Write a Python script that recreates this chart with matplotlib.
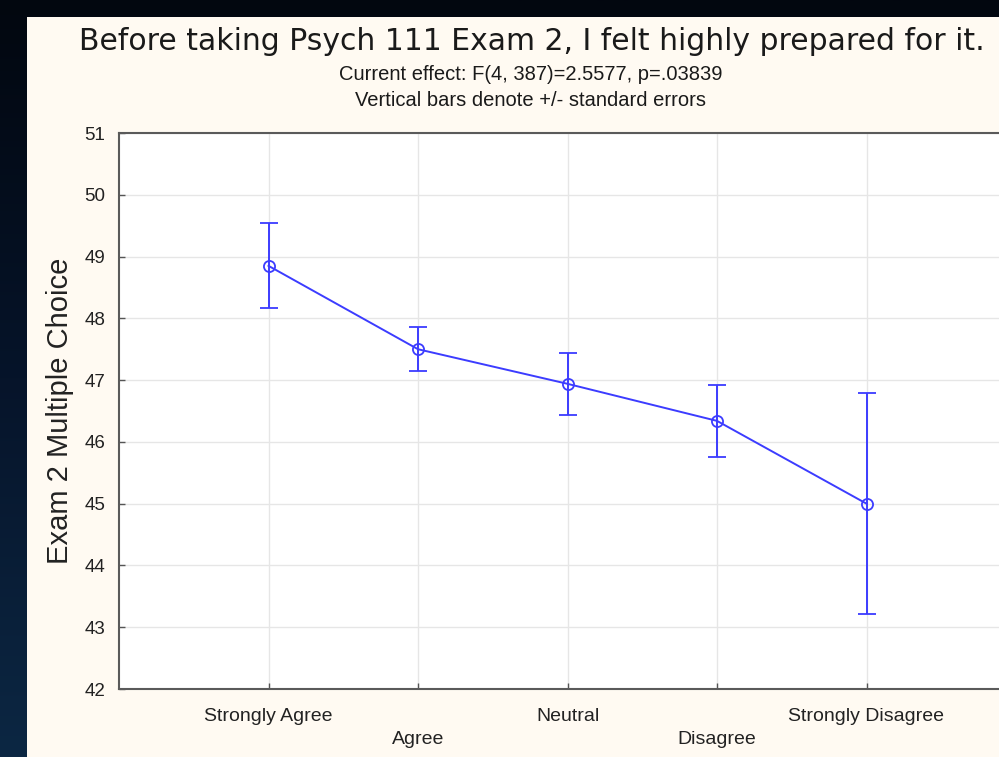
import numpy as np
import matplotlib
matplotlib.use("Agg")
import matplotlib.pyplot as plt
from matplotlib.patches import Rectangle
from matplotlib.colors import LinearSegmentedColormap

categories = ["Strongly Agree", "Agree", "Neutral", "Disagree", "Strongly Disagree"]
means = [48.85, 47.50, 46.94, 46.34, 45.00]
std_errors = [0.69, 0.36, 0.50, 0.58, 1.79]
y_ticks = [42, 43, 44, 45, 46, 47, 48, 49, 50, 51]

W, H = 999, 757
fig = plt.figure(figsize=(W / 100, H / 100), dpi=100)

# slide background gradient
bg = fig.add_axes([0, 0, 1, 1], zorder=-10)
grad = np.linspace(0, 1, 256).reshape(-1, 1)
cmap = LinearSegmentedColormap.from_list("bg", ["#02070f", "#06142a", "#0c2743"])
bg.imshow(grad, aspect="auto", cmap=cmap, extent=[0, 1, 0, 1], origin="upper")
bg.set_axis_off()
fig.patches.append(Rectangle((27 / W, 0), 1 - 27 / W, 1 - 17 / H, transform=fig.transFigure,
                             facecolor="#fffaf2", edgecolor="none", zorder=-5))

ax = fig.add_axes([119 / W, 1 - 689 / H, (1016 - 119) / W, (689 - 133) / H])
ax.set_facecolor("white")
x = np.arange(1, len(categories) + 1)
blue = "#3c3cff"
ax.errorbar(x, means, yerr=std_errors, color=blue, lw=1.4, marker="o", ms=8,
            mfc="none", mec=blue, mew=1.3, capsize=6.5, capthick=1.4, elinewidth=1.4, zorder=3)

ax.set_xlim(0, 6)
ax.set_ylim(42, 51)
ax.set_yticks(y_ticks)
ax.set_yticklabels([str(v) for v in y_ticks], fontsize=13.5, family="Liberation Sans", color="#222222")
ax.set_xticks(x)
ax.set_xticklabels([c if i % 2 == 0 else "\n" + c for i, c in enumerate(categories)],
                   fontsize=14, family="Liberation Sans", color="#222222", linespacing=1.4)
ax.tick_params(axis="x", direction="in", length=4, width=1, color="#555555", pad=14)
ax.tick_params(axis="y", direction="in", length=4, width=1, color="#555555", pad=10)
ax.grid(True, color="#e6e6e6", lw=1)
ax.set_axisbelow(True)
for s in ["left", "bottom", "top"]:
    ax.spines[s].set_color("#5a5a5a")
    ax.spines[s].set_linewidth(1.5)
ax.spines["right"].set_visible(False)
ax.set_ylabel("Exam 2 Multiple Choice", fontsize=21, family="Liberation Sans", color="#222222", labelpad=7)

fig.text(0.532, 1 - 42 / H, "Before taking Psych 111 Exam 2, I felt highly prepared for it.",
         ha="center", va="center", fontsize=21.5, family="DejaVu Sans", color="#1a1a1a")
fig.text(0.531, 1 - 74 / H, "Current effect: F(4, 387)=2.5577, p=.03839",
         ha="center", va="center", fontsize=14.5, family="Liberation Sans", color="#1a1a1a")
fig.text(0.531, 1 - 101 / H, "Vertical bars denote +/- standard errors",
         ha="center", va="center", fontsize=14.5, family="Liberation Sans", color="#1a1a1a")

fig.savefig("out.png", dpi=100)
